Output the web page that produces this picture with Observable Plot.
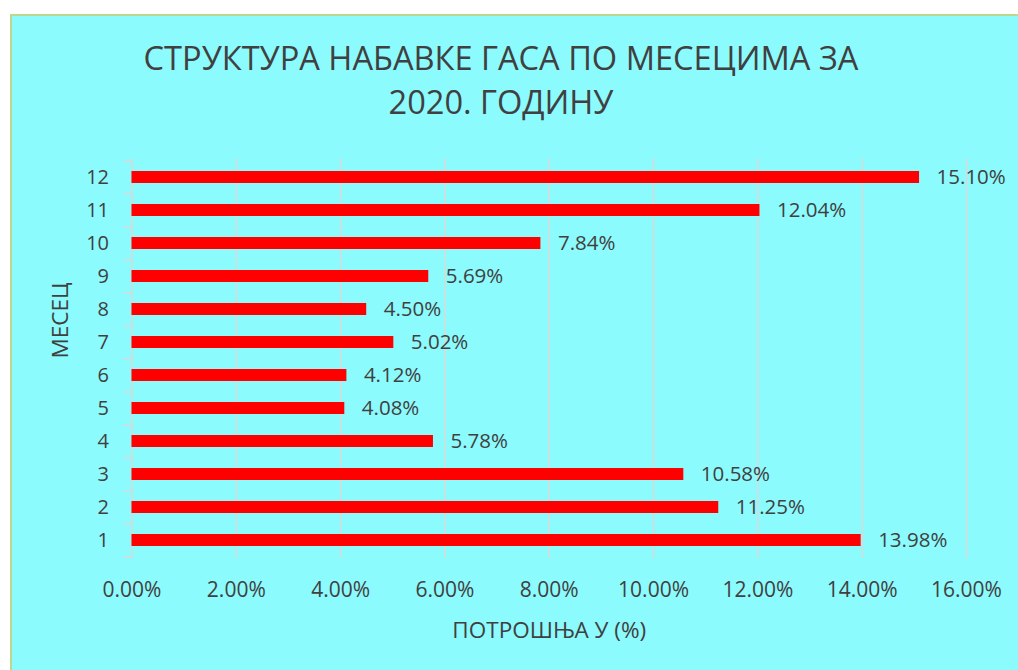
<!DOCTYPE html>
<html>
<head>
<meta charset="utf-8">
<script src="https://cdn.jsdelivr.net/npm/d3@7"></script>
<script src="https://cdn.jsdelivr.net/npm/@observablehq/plot@0.6"></script>
<style>
  html, body { margin: 0; padding: 0; background: #ffffff; }
  body { width: 1018px; height: 670px; position: relative; overflow: hidden; font-family: "Open Sans", sans-serif; }
  #panel { position: absolute; left: 10px; top: 14px; width: 1020px; height: 670px; background: #8cfbfd; border-left: 2px solid #bcd78e; border-top: 2px solid #bcd78e; }
  #title { position: absolute; left: 0; top: 36px; width: 1002px; text-align: center; font-size: 32.6px; line-height: 44px; color: #404040; }
  #chart { position: absolute; left: 0; top: 0; }
</style>
</head>
<body>
<div id="panel"></div>
<div id="title">СТРУКТУРА НАБАВКЕ ГАСА ПО МЕСЕЦИМА ЗА<br>2020. ГОДИНУ</div>
<div id="chart"></div>
<script>
const months = [1, 2, 3, 4, 5, 6, 7, 8, 9, 10, 11, 12];
const shares = [13.98, 11.25, 10.58, 5.78, 4.08, 4.12, 5.02, 4.50, 5.69, 7.84, 12.04, 15.10];
const xTicks = [0, 2, 4, 6, 8, 10, 12, 14, 16];
const xLabel = "ПОТРОШЊА У (%)";
const yLabel = "МЕСЕЦ";

const data = months.map((m, i) => ({month: m, share: shares[i]}));
const pct = d => d.toFixed(2) + "%";

const marginTop = 158, marginBottom = 112;
const H = 670;
const step = (H - marginTop - marginBottom) / months.length;
const grey = "#d9d9d9";
const ink = "#404040";

const chart = Plot.plot({
  width: 1018,
  height: H,
  marginLeft: 131.5,
  marginRight: 52,
  marginTop,
  marginBottom,
  style: {background: "transparent", fontFamily: "'Open Sans', sans-serif", fontSize: "20px", color: ink, overflow: "visible"},
  x: {domain: [0, 16], label: null},
  y: {domain: months.slice().reverse(), paddingInner: 0.64, paddingOuter: 0.32, label: null},
  marks: [
    Plot.ruleX(xTicks, {stroke: grey, strokeWidth: 1.5}),
    Plot.ruleY(months, {y: d => d, x1: -0.15, x2: 0, dy: -step / 2, stroke: grey, strokeWidth: 1.5}),
    Plot.ruleY([months[0]], {y: d => d, x1: -0.15, x2: 0, dy: step / 2, stroke: grey, strokeWidth: 1.5}),
    Plot.barX(data, {x: "share", y: "month", fill: "#ff0000"}),
    Plot.text(data, {x: "share", y: "month", text: d => pct(d.share), textAnchor: "start", dx: 17, fill: ink, fontSize: 20.5}),
    Plot.axisX({ticks: xTicks, tickSize: 0, tickPadding: 24, tickFormat: pct, fontSize: 21, color: ink, label: null}),
    Plot.axisY({tickSize: 0, tickPadding: 23, fontSize: 20, color: ink, label: null}),
    Plot.text([xLabel], {frameAnchor: "bottom", dy: 72, lineAnchor: "middle", fontSize: 22.5, fill: ink}),
    Plot.text([yLabel], {frameAnchor: "left", dx: -71, rotate: -90, lineAnchor: "middle", fontSize: 22.5, fill: ink})
  ]
});
document.getElementById("chart").appendChild(chart);
</script>
</body>
</html>
